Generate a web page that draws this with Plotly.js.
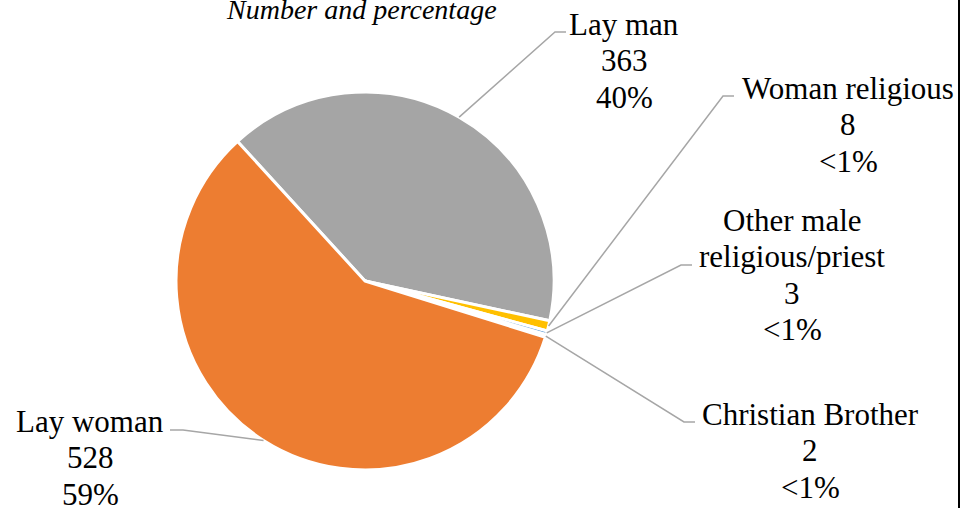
<!DOCTYPE html>
<html>
<head>
<meta charset="utf-8">
<script src="https://cdn.plot.ly/plotly-3.0.1.min.js"></script>
<style>html,body{margin:0;padding:0;background:#fff;}#chart{width:967px;height:508px;}</style>
</head>
<body>
<div id="chart"></div>
<script>
// ---- data ----
var categories = ["Lay man", "Woman religious", "Other male religious/priest", "Christian Brother", "Lay woman"];
var displayNames = ["Lay man", "Woman religious", "Other male<br>religious/priest", "Christian Brother", "Lay woman"];
var counts = [363, 8, 3, 2, 528];
var pctLabels = ["40%", "<1%", "<1%", "<1%", "59%"];
var colors = ["#A5A5A5", "#FFC000", "#5B9BD5", "#70AD47", "#ED7D31"];
var titleText = "Number and percentage";

// ---- layout geometry (pixels) ----
var W = 967, H = 508;
var CX = 365, CY = 281, R = 189;
var ROT = -42.4; // degrees clockwise from 12 o'clock
var FONT = "Liberation Serif, Times New Roman, serif";
function px(x){ return x / W; }
function py(y){ return 1 - y / H; }

// label block placement: center x, baseline of first line, and leader elbow/end
var labelPos = [
  {cx: 624, base: 33, elbow: [555, 32], end: [566, 32]},
  {cx: 848, base: 97, elbow: [723, 96], end: [734, 96]},
  {cx: 792, base: 229, elbow: [681, 265], end: [692, 265]},
  {cx: 810, base: 423, elbow: [684, 422], end: [695, 422]},
  {cx: 90,  base: 430, elbow: [183, 430], end: [170, 430]}
];
var lineGap = 36.5, fs = 31;

var total = counts.reduce(function(a,b){return a+b;}, 0);
var shapes = [];
var annotations = [];
var cum = 0;
for (var i = 0; i < counts.length; i++) {
  var midFrac = (cum + counts[i] / 2) / total;
  cum += counts[i];
  var ang = (ROT + midFrac * 360) * Math.PI / 180; // clockwise from top
  var sx = CX + R * Math.sin(ang), sy = CY - R * Math.cos(ang);
  var lp = labelPos[i];
  shapes.push({
    type: "path", xref: "paper", yref: "paper",
    path: "M " + px(sx) + "," + py(sy) + " L " + px(lp.elbow[0]) + "," + py(lp.elbow[1]) + " L " + px(lp.end[0]) + "," + py(lp.end[1]),
    line: {color: "#A6A6A6", width: 1.5}
  });
  var lines = displayNames[i].split("<br>").concat([String(counts[i]), pctLabels[i]]);
  for (var k = 0; k < lines.length; k++) {
    annotations.push({
      xref: "paper", yref: "paper", x: px(lp.cx), y: py(lp.base + k * lineGap - 9),
      xanchor: "center", yanchor: "middle", showarrow: false,
      text: lines[k].replace(/</g, "&lt;"),
      font: {family: FONT, size: fs, color: "#000"}
    });
  }
}
annotations.push({
  xref: "paper", yref: "paper", x: px(361), y: py(10), xanchor: "center", yanchor: "middle",
  showarrow: false, text: "<i>" + titleText + "</i>",
  font: {family: FONT, size: 28, color: "#000"}
});
shapes.push({type: "line", xref: "paper", yref: "paper", x0: px(959), x1: px(959), y0: 0, y1: 1,
  line: {color: "#000", width: 2}});

var trace = {
  type: "pie",
  labels: categories,
  values: counts,
  sort: false,
  direction: "clockwise",
  rotation: ROT,
  textinfo: "none",
  hoverinfo: "none",
  marker: {colors: colors, line: {color: "#FFFFFF", width: 3}},
  domain: {x: [px(CX - R), px(CX + R)], y: [py(CY + R), py(CY - R)]},
  showlegend: false
};

var layout = {
  width: W, height: H,
  margin: {l: 0, r: 0, t: 0, b: 0},
  paper_bgcolor: "#fff",
  showlegend: false,
  font: {family: FONT},
  shapes: shapes,
  annotations: annotations
};
Plotly.newPlot("chart", [trace], layout, {staticPlot: true, displayModeBar: false});
</script>
</body>
</html>
